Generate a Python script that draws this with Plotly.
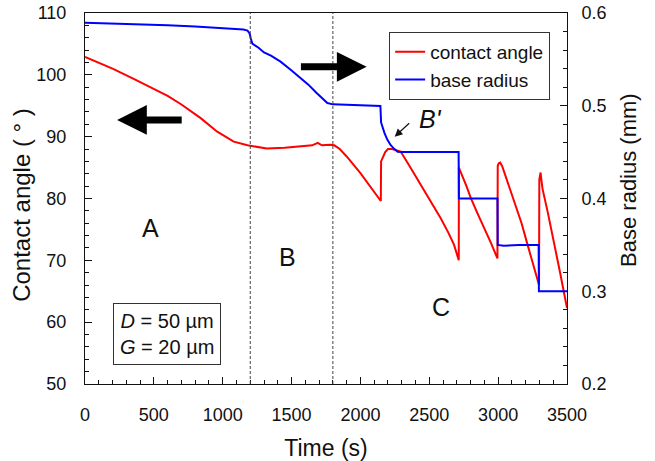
import plotly.graph_objects as go

# contact angle (deg) vs time (s), left axis
angle_time = [0, 100, 200, 350, 500, 600, 700, 840, 960, 1080, 1180, 1250, 1320, 1450, 1560,
              1650, 1690, 1720, 1780, 1810, 1850, 1900, 2000, 2100, 2148,
              2150, 2160, 2180, 2200, 2230, 2260, 2292, 2350, 2438, 2520, 2583, 2640, 2680, 2714,
              2715, 2720, 2770, 2801, 2850, 2900, 2950, 2995,
              2997, 3005, 3015, 3030, 3070, 3120, 3170, 3214, 3250, 3297,
              3299, 3303, 3308, 3314, 3322, 3360, 3400, 3450, 3500]
angle_vals = [102.9, 102.0, 101.0, 99.4, 97.8, 96.6, 95.2, 93.0, 90.8, 89.2, 88.6, 88.3, 88.1, 88.2, 88.4,
              88.6, 89.0, 88.6, 88.7, 88.6, 88.0, 86.8, 84.1, 81.1, 79.6,
              86.0, 86.6, 87.5, 88.0, 88.0, 87.8, 87.6, 85.5, 82.2, 79.3, 76.8, 74.4, 72.5, 70.0,
              85.0, 84.7, 82.0, 80.1, 77.6, 75.2, 72.7, 70.3,
              85.3, 85.7, 85.8, 85.2, 82.6, 79.4, 76.0, 72.5, 69.8, 66.0,
              83.0, 84.1, 84.2, 83.0, 81.6, 77.8, 73.6, 68.0, 62.3]

# base radius (mm) vs time (s), right axis
radius_time = [0, 200, 400, 600, 800, 1000, 1100, 1150, 1180, 1195, 1205, 1215, 1260, 1300, 1350,
               1420, 1500, 1560, 1620, 1680, 1720, 1760, 1800, 1900, 2000, 2100, 2145,
               2150, 2160, 2175, 2195, 2220, 2245, 2270, 2300, 2500, 2713,
               2715, 2900, 2995, 2997, 3040, 3150, 3294, 3296, 3400, 3500]
radius_vals = [0.5895, 0.5888, 0.5878, 0.5867, 0.5855, 0.5840, 0.5832, 0.5822, 0.5810, 0.5780, 0.5720, 0.5670, 0.5625, 0.5575, 0.5540,
               0.5475, 0.5380, 0.5310, 0.5230, 0.5140, 0.5080, 0.5030, 0.5015, 0.5008, 0.5005, 0.5000, 0.4997,
               0.4820, 0.4765, 0.4705, 0.4635, 0.4575, 0.4535, 0.4505, 0.4502, 0.4500, 0.4500,
               0.4000, 0.4000, 0.4000, 0.3500, 0.3490, 0.3500, 0.3500, 0.3000, 0.3000, 0.3000]

region_bounds = [1200, 1800]

FONT = "Arial, Liberation Sans, sans-serif"
INK = "#111111"

fig = go.Figure()
fig.add_trace(go.Scatter(x=angle_time, y=angle_vals, mode="lines", name="contact angle",
                         line=dict(color="#ff0000", width=2)))
# radius sits on x2 (the label copy of the time axis) and y2
fig.add_trace(go.Scatter(x=radius_time, y=radius_vals, mode="lines", name="base radius",
                         line=dict(color="#0000ff", width=2), xaxis="x2", yaxis="y2"))

for xb in region_bounds:
    fig.add_vline(x=xb, line=dict(color="#444444", width=1, dash="3px,2px"))

annotations = [
    dict(x=473, y=75.2, text="A"),
    dict(x=1470, y=70.5, text="B"),
    dict(x=2583, y=62.5, text="C"),
]
for a in annotations:
    fig.add_annotation(x=a["x"], y=a["y"], text=a["text"], showarrow=False,
                       font=dict(size=25, color=INK, family=FONT))

fig.add_annotation(x=2511, y=92.9, text="<i>B'</i>", showarrow=False,
                   font=dict(size=25, color=INK, family=FONT))
fig.add_annotation(x=2249, y=90.0, ax=2365, ay=92.4, axref="x", ayref="y", text="",
                   showarrow=True, arrowhead=2, arrowwidth=1.2, arrowsize=1.3, arrowcolor=INK)

# thick black direction arrows
fig.add_annotation(x=233, y=92.7, ax=713, ay=92.7, axref="x", ayref="y", text="",
                   showarrow=True, arrowhead=2, arrowwidth=7, arrowsize=0.85, arrowcolor="black")
fig.add_annotation(x=2045, y=101.3, ax=1557, ay=101.3, axref="x", ayref="y", text="",
                   showarrow=True, arrowhead=2, arrowwidth=7, arrowsize=0.85, arrowcolor="black")

fig.add_annotation(x=0.171, y=0.135, xref="paper", yref="paper", xanchor="center", yanchor="middle",
                   showarrow=False, text="<i>D</i> = 50 µm<br><i>G</i> = 20 µm", align="center",
                   font=dict(size=20, color=INK, family=FONT),
                   bordercolor="#333333", borderwidth=1, borderpad=6, bgcolor="white")

# y titles as rotated text so they sit where the original puts them
fig.add_annotation(x=-0.131, y=0.4825, xref="paper", yref="paper", xanchor="center", yanchor="middle",
                   showarrow=False, textangle=-90, text="Contact angle ( ° )",
                   font=dict(size=24, color=INK, family=FONT))
fig.add_annotation(x=1.1286, y=0.55, xref="paper", yref="paper", xanchor="center", yanchor="middle",
                   showarrow=False, textangle=-90, text="Base radius (mm)",
                   font=dict(size=22, color=INK, family=FONT))

axis_common = dict(showline=True, linecolor=INK, linewidth=1, showgrid=False, zeroline=False,
                   automargin=False, tickfont=dict(size=18, color=INK, family=FONT))
tick_marks = dict(ticks="inside", ticklen=7, tickcolor=INK, tickwidth=1.4)

fig.update_layout(
    width=655, height=461,
    paper_bgcolor="white", plot_bgcolor="white",
    margin=dict(l=85, r=88, t=13, b=77),
    font=dict(family=FONT, color=INK),
    showlegend=True,
    legend=dict(x=0.631, y=0.949, xanchor="left", yanchor="top",
                bordercolor="#333333", borderwidth=1, bgcolor="white",
                font=dict(size=19, family=FONT, color=INK), tracegroupgap=0),
    # tick marks + frame only
    xaxis=dict(range=[0, 3500], dtick=500, mirror=True, showticklabels=False,
               minor=dict(dtick=100, ticks="inside", ticklen=4, tickcolor=INK, tickwidth=1.2),
               **tick_marks, **axis_common),
    # labels + title only (ticklabelstandoff would displace inside tick marks)
    xaxis2=dict(range=[0, 3500], dtick=500, overlaying="x", anchor="y2", side="bottom",
                ticks="", ticklabelstandoff=14,
                title=dict(text="Time (s)", font=dict(size=23, family=FONT, color=INK), standoff=19),
                **axis_common),
    yaxis=dict(range=[50, 110], dtick=10, ticksuffix="\u2002\u00a0",
               minor=dict(dtick=2, ticks="inside", ticklen=4, tickcolor=INK, tickwidth=1.2),
               **tick_marks, **axis_common),
    yaxis2=dict(range=[0.2, 0.6], dtick=0.1, tickformat=".1f", tickprefix="\u00a0\u00a0",
                overlaying="y", side="right", anchor="x",
                minor=dict(dtick=0.02, ticks="inside", ticklen=4, tickcolor=INK, tickwidth=1.2),
                **tick_marks, **axis_common),
)

# drop the default 8px page margin so the figure sits at the window origin
fig.write_html("out.html", config={"displayModeBar": False},
               post_script="document.body.style.margin = '0';")
